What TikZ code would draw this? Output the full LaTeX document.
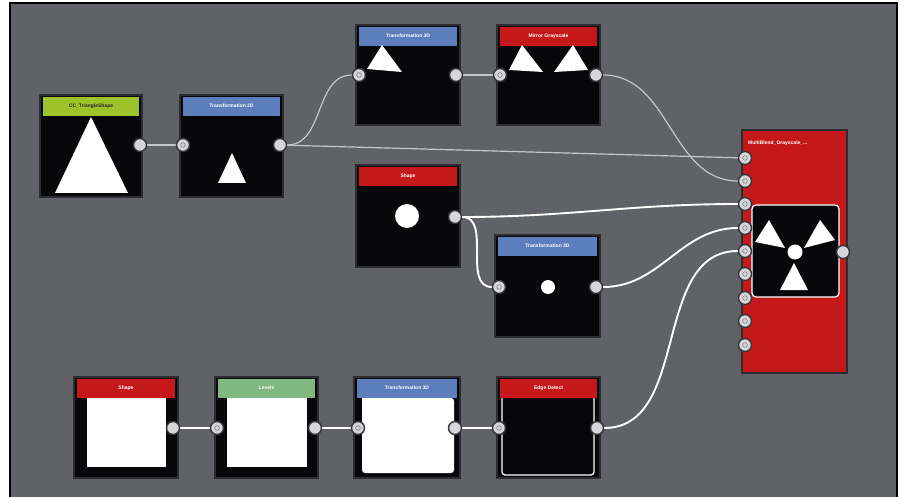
\documentclass[tikz,border=0pt]{standalone}
\usepackage{fontspec}
\setmainfont{Liberation Sans}
\definecolor{bgc}{RGB}{96,98,103}
\definecolor{boxc}{RGB}{8,8,10}
\definecolor{boxedge}{RGB}{44,45,49}
\definecolor{hred}{RGB}{196,24,27}
\definecolor{hblue}{RGB}{92,126,188}
\definecolor{hlime}{RGB}{156,196,42}
\definecolor{hgreen}{RGB}{128,184,128}
\definecolor{portc}{RGB}{214,214,216}
\definecolor{portedge}{RGB}{52,53,57}
\definecolor{thinw}{RGB}{196,198,200}
\pgfdeclarelayer{bglayer}
\pgfdeclarelayer{wirelayer}
\pgfsetlayers{bglayer,wirelayer,main}
\tikzset{
  panelbox/.style={draw=boxedge, fill=boxc, line width=2pt, inner sep=0pt},
  hdr/.style={inner sep=0pt, minimum height=19pt, text=white, font=\fontsize{5}{6}\selectfont\bfseries},
  port/.style={circle, minimum size=13pt, inner sep=0pt, fill=portc, draw=portedge, line width=1.4pt},
  inport/.style={port, path picture={\draw[gray, line width=0.6pt] (path picture bounding box.center) circle (2.3pt);}},
  thinwire/.style={draw=thinw, line width=1.2pt},
  wire/.style={draw=white, line width=1.9pt},
  img/.style={fill=white}
}
\newcommand\panel[7]{%
  \node[panelbox, minimum width=#4pt, minimum height=#5pt] (#1) at (#2,#3) {};
  \node[hdr, fill=#6, minimum width=#4pt-6pt, anchor=north] (#1h) at ([yshift=-2.5pt]#1.north) {#7};}
\begin{document}
\begin{tikzpicture}[x=1pt,y=-1pt]
\useasboundingbox (0,0) rectangle (905,497);
\begin{pgfonlayer}{bglayer}
\fill[white] (0,0) rectangle (905,497);
\fill[bgc] (10,3) rectangle (897,497);
\draw[black, line width=1.6pt] (10,497) -- (10,3) -- (897,3) -- (897,497);
% panels
\panel{n1}{91}{146}{102}{102}{hlime}{\textcolor{black!85}{CC\_TriangleShape}}
\panel{n2}{231.5}{146}{103}{102}{hblue}{Transformation 2D}
\panel{n3}{408}{75}{104}{100}{hblue}{Transformation 3D}
\panel{n4}{548.5}{75}{103}{100}{hred}{Mirror Grayscale}
\panel{n5}{408}{216}{104}{102}{hred}{Shape}
\panel{n6}{547.5}{286}{105}{102}{hblue}{Transformation 3D}
\panel{n8}{126}{427.5}{104}{101}{hred}{Shape}
\panel{n9}{266.5}{427.5}{103}{101}{hgreen}{Levels}
\panel{n10}{407}{427.5}{106}{101}{hblue}{Transformation 3D}
\panel{n11}{548.5}{427.5}{103}{101}{hred}{Edge Detect}
% multiblend
\node[panelbox, fill=hred, minimum width=105pt, minimum height=243pt] (n7) at (794.5,251.5) {};
\node[hdr, anchor=west] (n7h) at (748,143) {MultiBlend\_Grayscale\_...};
\fill[boxc, draw=white, line width=1.2pt, rounded corners=4pt] (752,205) rectangle (839,297);
% images
\fill[img] (91,117) -- (128,193) -- (55,193) -- cycle;
\fill[img] (232,153) -- (246,183) -- (218,183) -- cycle;
\fill[img] (382,45) -- (402,72) -- (367,69) -- cycle;
\fill[img] (522,45) -- (543,72) -- (509,70) -- cycle;
\fill[img] (573,45) -- (588,70) -- (554,72) -- cycle;
\fill[img] (407,216) circle (12);
\fill[img] (548,287) circle (7);
\fill[img] (769,220) -- (785,248) -- (755,242) -- cycle;
\fill[img] (820,220) -- (835,240) -- (804,248) -- cycle;
\fill[img] (794,263) -- (808,290) -- (780,290) -- cycle;
\fill[img] (795,252) circle (7.5);
\fill[img] (87,398) rectangle (166,467);
\fill[img] (227,398) rectangle (307,467);
\fill[img, rounded corners=3pt] (362,398) -- (362,473) -- (454,473) -- (454,398) [sharp corners] -- cycle;
\draw[white, line width=1.2pt, rounded corners=3pt] (502,398) -- (502,475) -- (594,475) -- (594,398);
\end{pgfonlayer}
% ports
\node[port] (p1o) at (140,145) {};
\node[inport] (p2i) at (183,145) {};
\node[port] (p2o) at (280,145) {};
\node[inport] (p3i) at (359,75) {};
\node[port] (p3o) at (456,75) {};
\node[inport] (p4i) at (500,75) {};
\node[port] (p4o) at (596,75) {};
\node[port] (p5o) at (455,217) {};
\node[inport] (p6i) at (499,287) {};
\node[port] (p6o) at (596,287) {};
\node[port] (p8o) at (173,428) {};
\node[inport] (p9i) at (217,428) {};
\node[port] (p9o) at (315,428) {};
\node[inport] (p10i) at (358,428) {};
\node[port] (p10o) at (455,428) {};
\node[inport] (p11i) at (499,428) {};
\node[port] (p11o) at (597,428) {};
\foreach \i/\yy in {1/158,2/181,3/204,4/228,5/251,6/274,7/298,8/321,9/345}
  \node[inport] (m\i) at (745,\yy) {};
\node[port] (mo) at (843,252) {};
% wires
\begin{pgfonlayer}{wirelayer}
\draw[thinwire] (p1o) -- (p2i);
\draw[thinwire] (p2o) to[out=0,in=180] (p3i);
\draw[thinwire] (p2o) -- (m1);
\draw[thinwire] (p3o) -- (p4i);
\draw[thinwire] (p4o) to[out=0,in=180] (m2);
\draw[wire] (p5o) to[out=0,in=180] (m3);
\draw[wire] (p5o) to[out=0,in=180] (p6i);
\draw[wire] (p6o) to[out=0,in=180] (m4);
\draw[wire] (p11o) to[out=0,in=180] (m5);
\draw[wire] (p8o) -- (p9i);
\draw[wire] (p9o) -- (p10i);
\draw[wire] (p10o) -- (p11i);
\end{pgfonlayer}
\end{tikzpicture}
\end{document}
